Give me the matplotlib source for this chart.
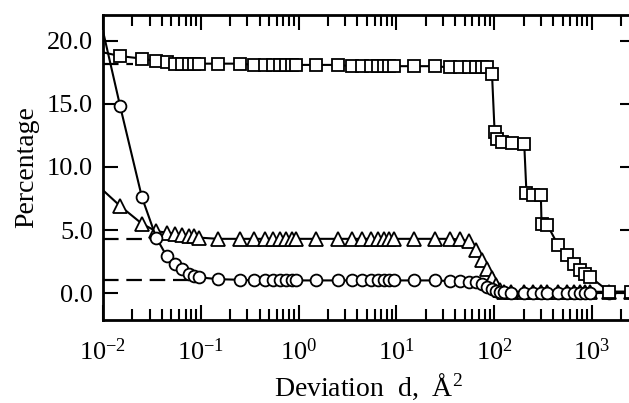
import numpy as np
import matplotlib
matplotlib.use("Agg")
import matplotlib.pyplot as plt
from matplotlib.ticker import LogLocator, FixedLocator, NullFormatter

plt.rcParams['font.family'] = ['Liberation Serif', 'DejaVu Serif']
plt.rcParams['mathtext.fontset'] = 'custom'
plt.rcParams['mathtext.rm'] = 'Liberation Serif'
plt.rcParams['mathtext.it'] = 'Liberation Serif:italic'

# bin centres, 9 per decade
dec_m2 = [0.015, 0.025, 0.035, 0.045, 0.055, 0.065, 0.075, 0.085, 0.095]
dec_m1 = [0.15, 0.25, 0.35, 0.45, 0.55, 0.65, 0.75, 0.85, 0.95]
dec_0 = [1.5, 2.5, 3.5, 4.5, 5.5, 6.5, 7.5, 8.5, 9.5]
dec_1 = [15, 25, 35, 45, 55, 65, 75, 85, 95]

# squares
sq_x = [0.005] + dec_m2 + dec_m1 + dec_0 + dec_1 + \
       [101, 108, 121, 153, 203, 214, 248, 300, 305, 350, 450, 550, 650, 750, 850, 950, 1500, 2500]
sq_y = [19.6,
        18.8, 18.6, 18.4, 18.3, 18.2, 18.2, 18.2, 18.2, 18.2,
        18.2, 18.2, 18.1, 18.1, 18.1, 18.1, 18.1, 18.1, 18.1,
        18.1, 18.1, 18.0, 18.0, 18.0, 18.0, 18.0, 18.0, 18.0,
        18.0, 18.0, 17.9, 17.9, 17.9, 17.9, 17.9, 17.9, 17.4,
        12.8, 12.2, 12.0, 11.9, 11.8, 7.9, 7.8, 7.8, 5.5, 5.4, 3.8, 3.0, 2.3, 1.8, 1.5, 1.3, 0.1, 0.1]

# circles
ci_x = [0.005] + dec_m2 + dec_m1 + dec_0 + dec_1 + \
       [105, 115, 125, 150, 200, 250, 300, 350, 450, 550, 650, 750, 850, 950, 1500, 2500]
ci_y = [31.0,
        14.8, 7.6, 4.4, 2.9, 2.3, 1.9, 1.5, 1.35, 1.25,
        1.1, 1.05, 1.0, 1.0, 1.0, 1.0, 1.0, 1.0, 1.0,
        1.0, 1.0, 1.0, 1.0, 1.0, 1.0, 1.0, 1.0, 1.0,
        1.0, 1.0, 0.95, 0.95, 0.9, 0.85, 0.7, 0.5, 0.35,
        0.2, 0.1, 0.05, 0.0, 0.0, 0.0, 0.0, 0.0, 0.0, 0.0, 0.0, 0.0, 0.0, 0.0, 0.0, 0.0]

# triangles
tr_x = [0.005] + dec_m2 + dec_m1 + dec_0 + dec_1 + \
       [105, 115, 125, 150, 200, 250, 300, 350, 450, 550, 650, 750, 850, 950, 1500, 2500]
tr_y = [10.3,
        6.9, 5.5, 4.9, 4.8, 4.7, 4.6, 4.5, 4.5, 4.4,
        4.3, 4.3, 4.3, 4.3, 4.3, 4.3, 4.3, 4.3, 4.3,
        4.3, 4.3, 4.3, 4.3, 4.3, 4.3, 4.3, 4.3, 4.3,
        4.3, 4.3, 4.3, 4.25, 4.1, 3.4, 2.6, 1.9, 1.2,
        0.6, 0.25, 0.1, 0.1, 0.1, 0.1, 0.1, 0.1, 0.1, 0.1, 0.1, 0.1, 0.1, 0.1, 0.1, 0.1]

# dashed asymptote levels and how far they reach
dash_y = [18.2, 4.25, 1.0]
dash_xend = [0.0205, 0.031, 0.075]

fig = plt.figure(figsize=(6.29, 4.03), dpi=100)
ax = fig.add_axes([103 / 629, 83 / 403, 532 / 629, 305 / 403])

for y, xe in zip(dash_y, dash_xend):
    ax.plot([0.01, xe], [y, y], color='black', lw=1.6, linestyle=(0, (7, 3.5)), zorder=2)

style = dict(color='black', lw=1.5, mfc='white', mec='black', mew=1.3)
ax.plot(tr_x, tr_y, marker='^', ms=10, zorder=3, **style)
ax.plot(ci_x, ci_y, marker='o', ms=8.5, zorder=4, **style)
ax.plot(sq_x, sq_y, marker='s', ms=9, zorder=5, **style)

ax.set_xscale('log')
ax.set_xlim(0.01, 10 ** 3.44)
ax.set_ylim(-2.14, 22.06)

ax.xaxis.set_major_locator(LogLocator(base=10, numticks=10))
ax.xaxis.set_minor_locator(LogLocator(base=10, subs=np.arange(2, 10), numticks=20))
ax.xaxis.set_minor_formatter(NullFormatter())
ax.yaxis.set_major_locator(FixedLocator([0, 5, 10, 15, 20]))
ax.set_yticklabels(['0.0', '5.0', '10.0', '15.0', '20.0'])

ax.tick_params(which='major', direction='in', length=10.8, width=1.5,
               top=True, right=True, labelsize=19)
ax.tick_params(which='minor', direction='in', length=7.9, width=1.5, top=True)
ax.tick_params(axis='x', which='major', pad=13)
ax.tick_params(axis='y', which='major', pad=7)
for sp in ax.spines.values():
    sp.set_linewidth(2)

ax.set_xlabel(r'Deviation  d,  Å$^{2}$', fontsize=20, labelpad=5)
ax.set_ylabel('Percentage', fontsize=20, labelpad=6)

fig.savefig('out.png', dpi=100)
